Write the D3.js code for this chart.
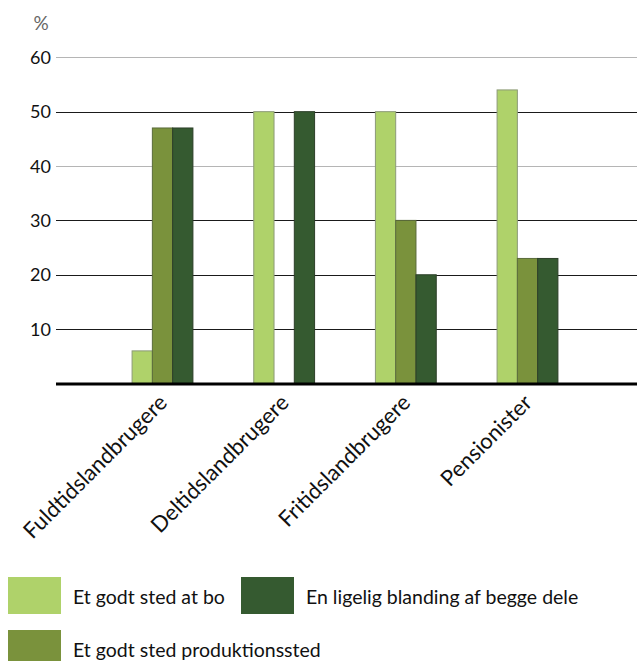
<!DOCTYPE html>
<html>
<head>
<meta charset="utf-8">
<script src="https://cdn.jsdelivr.net/npm/d3@7"></script>
<style>
  body { margin: 0; background: #fff; }
  text { font-family: Lato, "Open Sans", sans-serif; }
</style>
</head>
<body>
<div id="chart"></div>
<script>
// data
var categories = ["Fuldtidslandbrugere", "Deltidslandbrugere", "Fritidslandbrugere", "Pensionister"];
var seriesNames = ["Et godt sted at bo", "Et godt sted produktionssted", "En ligelig blanding af begge dele"];
var boValues = [6, 50, 50, 54];
var produktionValues = [47, 0, 30, 23];
var blandingValues = [47, 50, 20, 23];
var yTicks = [10, 20, 30, 40, 50, 60];

var colors = ["#afd26a", "#7a923c", "#355a30"];
var strokes = ["#8c9a78", "#5a6b3a", "#2c3f28"];

var width = 637, height = 661;

var svg = d3.select("#chart")
  .append("svg")
  .attr("width", width)
  .attr("height", height);

var rows = categories.map(function (c, i) {
  return { cat: c, values: [boValues[i], produktionValues[i], blandingValues[i]] };
});

var y = d3.scaleLinear()
  .domain([0, 60])
  .range([383.5, 57.3]);

var x0 = d3.scaleBand()
  .domain(categories)
  .range([53, 637])
  .paddingInner(0.5)
  .paddingOuter(0.65);

var x1 = d3.scaleBand()
  .domain([0, 1, 2])
  .range([0, x0.bandwidth()]);

// gridlines (60 and 40 come out lighter in the original)
var grid = svg.append("g");
grid.selectAll("line")
  .data(yTicks)
  .enter()
  .append("line")
    .attr("x1", 56)
    .attr("x2", width)
    .attr("y1", function (d) { return Math.round(y(d)) + 0.5; })
    .attr("y2", function (d) { return Math.round(y(d)) + 0.5; })
    .style("stroke", function (d) { return (d === 60 || d === 40) ? "#b5b5b5" : "#1a1a1a"; })
    .style("stroke-width", 1.2);

// y tick labels
svg.append("g")
  .selectAll("text")
  .data(yTicks)
  .enter()
  .append("text")
    .attr("x", 51)
    .attr("y", function (d) { return y(d); })
    .attr("dy", "0.36em")
    .attr("text-anchor", "end")
    .style("font-size", "18px")
    .style("fill", "#111")
    .text(function (d) { return d; });

svg.append("text")
  .attr("x", 41)
  .attr("y", 30)
  .attr("text-anchor", "middle")
  .style("font-size", "19px")
  .style("fill", "#666")
  .text("%");

// bars
var groups = svg.append("g")
  .selectAll("g")
  .data(rows)
  .enter()
  .append("g")
    .attr("transform", function (d) { return "translate(" + x0(d.cat) + ",0)"; });

groups.selectAll("rect")
  .data(function (d) { return d.values.map(function (v, i) { return { i: i, v: v }; }); })
  .enter()
  .append("rect")
    .attr("x", function (d) { return x1(d.i); })
    .attr("y", function (d) { return y(d.v); })
    .attr("width", x1.bandwidth())
    .attr("height", function (d) { return y(0) - y(d.v); })
    .style("fill", function (d) { return colors[d.i]; })
    .style("stroke", function (d) { return d.v > 0 ? strokes[d.i] : "none"; })
    .style("stroke-width", 1);

// baseline
svg.append("line")
  .attr("x1", 56)
  .attr("x2", width)
  .attr("y1", y(0) + 0.5)
  .attr("y2", y(0) + 0.5)
  .style("stroke", "#000")
  .style("stroke-width", 3);

// category labels, rotated
svg.append("g")
  .selectAll("text")
  .data(categories)
  .enter()
  .append("text")
    .attr("transform", function (d) {
      return "translate(" + (x0(d) + x0.bandwidth() / 2 + 6) + ",404) rotate(-45)";
    })
    .attr("text-anchor", "end")
    .style("font-size", "22px")
    .style("fill", "#111")
    .text(function (d) { return d; });

// legend
var legendPos = [[8, 577], [8, 630], [241, 577]];
var legend = svg.append("g")
  .selectAll("g")
  .data(seriesNames)
  .enter()
  .append("g")
    .attr("transform", function (d, i) { return "translate(" + legendPos[i][0] + "," + legendPos[i][1] + ")"; });

legend.append("rect")
  .attr("width", 53)
  .attr("height", 37)
  .style("fill", function (d, i) { return colors[i]; });

legend.append("text")
  .attr("x", 65)
  .attr("y", 27)
  .style("font-size", "19.5px")
  .style("fill", "#111")
  .text(function (d) { return d; });
</script>
</body>
</html>
